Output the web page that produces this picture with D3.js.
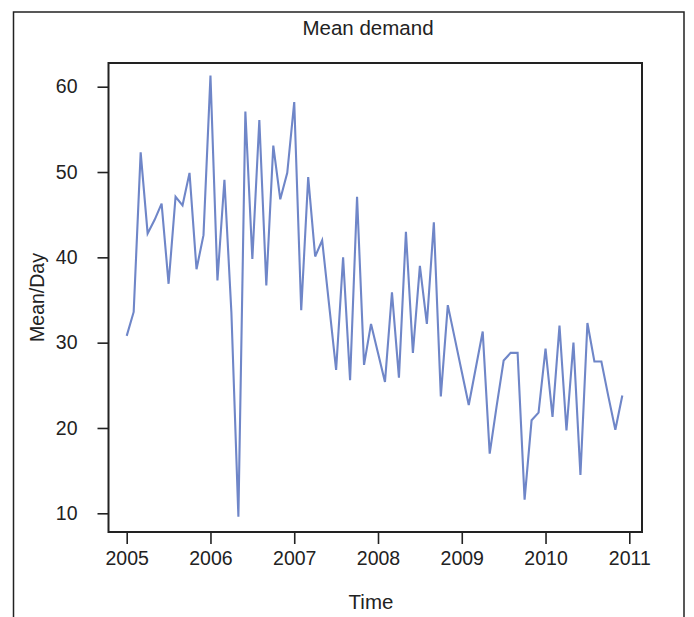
<!DOCTYPE html>
<html>
<head>
<meta charset="utf-8">
<script src="https://cdn.jsdelivr.net/npm/d3@7"></script>
<style>
  html, body { margin: 0; padding: 0; background: #fff; }
  svg { display: block; }
  text { font-family: "Liberation Sans", Arial, Helvetica, sans-serif; fill: #222; }
</style>
</head>
<body>
<svg id="chart" width="694" height="617"></svg>
<script>
// ---- data (monthly, Jan 2005 – Dec 2010) ----
const startYear = 2005;
const values2005 = [30.8, 33.6, 52.3, 42.8, 44.4, 46.3, 36.9, 47.1, 46.1, 49.9, 38.6, 42.6];
const values2006 = [61.3, 37.3, 49.1, 33.5, 9.6, 57.1, 39.8, 56.1, 36.7, 53.1, 46.8, 49.9];
const values2007 = [58.2, 33.8, 49.4, 40.1, 42.0, 34.4, 26.8, 40.0, 25.6, 47.1, 27.4, 32.2];
const values2008 = [28.8, 25.4, 35.9, 25.9, 43.0, 28.8, 39.0, 32.2, 44.1, 23.7, 34.4, 30.5];
const values2009 = [26.6, 22.7, 27.0, 31.3, 17.0, 22.6, 27.9, 28.8, 28.8, 11.6, 20.9, 21.8];
const values2010 = [29.3, 21.3, 32.0, 19.7, 30.0, 14.5, 32.3, 27.8, 27.8, 23.7, 19.8, 23.8];
const xTickYears = [2005, 2006, 2007, 2008, 2009, 2010, 2011];
const yTickValues = [10, 20, 30, 40, 50, 60];
const titleText = "Mean demand";
const xLabel = "Time";
const yLabel = "Mean/Day";

const allValues = [].concat(values2005, values2006, values2007, values2008, values2009, values2010);
const series = allValues.map((v, i) => ({ t: startYear + i / 12, v: v }));

// ---- layout ----
const svg = d3.select("#chart");
const box = { left: 108.5, right: 642, top: 63, bottom: 532 };
const fontSize = 19.5;
const labelSize = 20.5;

const x = d3.scaleLinear().domain([2005, 2011]).range([126.7, 629.3]);
const y = d3.scaleLinear().domain([10, 60]).range([513.3, 86.7]);

// outer frame
svg.append("path")
  .attr("d", `M13.5,${640} L13.5,12 L684,12 L684,${640}`)
  .attr("fill", "none").attr("stroke", "#222").attr("stroke-width", 1.5);

// line
const line = d3.line().x(d => x(d.t)).y(d => y(d.v));
svg.append("path")
  .datum(series)
  .attr("d", line)
  .attr("fill", "none")
  .attr("stroke", "#6f86c8")
  .attr("stroke-width", 2.1)
  .attr("stroke-linejoin", "miter");

// plot box
svg.append("rect")
  .attr("x", box.left).attr("y", box.top)
  .attr("width", box.right - box.left).attr("height", box.bottom - box.top)
  .attr("fill", "none").attr("stroke", "#222").attr("stroke-width", 2);

// x axis
const xAxis = d3.axisBottom(x).tickValues(xTickYears).tickFormat(d3.format("d"))
  .tickSize(12).tickPadding(7);
const gx = svg.append("g").attr("transform", `translate(0,${box.bottom})`).call(xAxis);
gx.select(".domain").remove();
gx.selectAll(".tick line").attr("stroke", "#222").attr("stroke-width", 1.6);
gx.selectAll(".tick text").attr("font-size", fontSize).attr("font-family", null).attr("fill", "#222");

// y axis
const yAxis = d3.axisLeft(y).tickValues(yTickValues).tickSize(11).tickPadding(20);
const gy = svg.append("g").attr("transform", `translate(${box.left},0)`).call(yAxis);
gy.select(".domain").remove();
gy.selectAll(".tick line").attr("stroke", "#222").attr("stroke-width", 1.6);
gy.selectAll(".tick text").attr("font-size", fontSize).attr("font-family", null).attr("fill", "#222");

// title & labels
svg.append("text").attr("x", 368).attr("y", 27).attr("text-anchor", "middle")
  .attr("dominant-baseline", "central").attr("font-size", labelSize).text(titleText);
svg.append("text").attr("x", 371).attr("y", 601).attr("text-anchor", "middle")
  .attr("dominant-baseline", "central").attr("font-size", labelSize).text(xLabel);
svg.append("text").attr("transform", `translate(37,${(box.top + box.bottom) / 2}) rotate(-90)`)
  .attr("text-anchor", "middle").attr("dominant-baseline", "central")
  .attr("font-size", fontSize).text(yLabel);
</script>
</body>
</html>
